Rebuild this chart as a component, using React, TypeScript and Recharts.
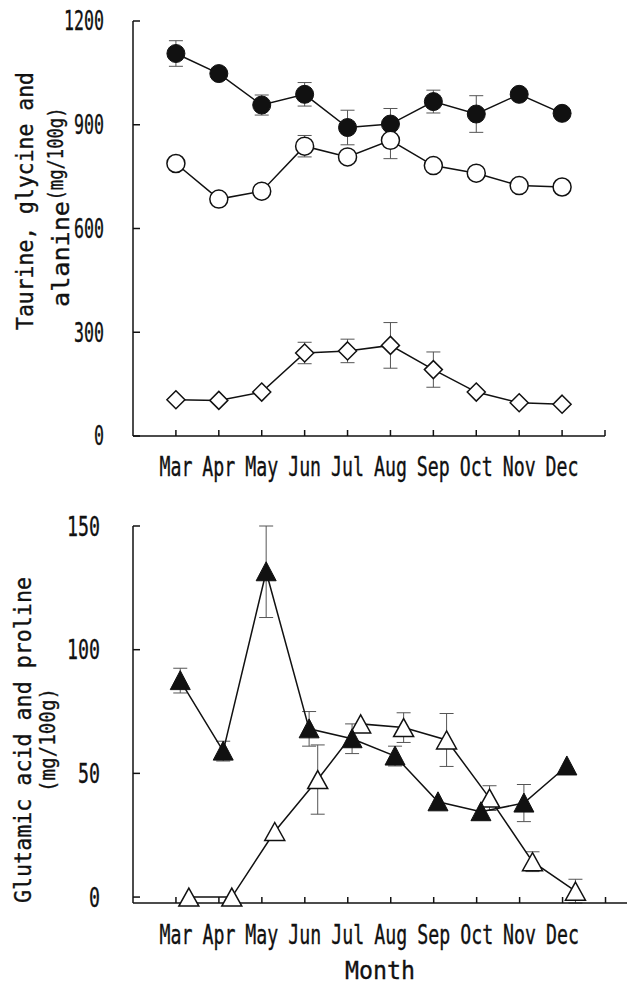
import type { ReactElement } from "react";
import { ErrorBar, Line, LineChart, XAxis, YAxis } from "recharts";

const months = ["Mar", "Apr", "May", "Jun", "Jul", "Aug", "Sep", "Oct", "Nov", "Dec"];

// upper panel (mg/100g)
const filledCircle = [1106, 1048, 957, 988, 892, 902, 967, 931, 988, 933];
const filledCircleErr = [37, null, 29, 34, 50, 45, 33, 53, null, null];
const openCircle = [788, 685, 708, 838, 807, 855, 782, 760, 724, 720];
const openCircleErr = [null, null, null, 31, null, 53, null, null, null, null];
const diamond = [105, 103, 127, 240, 246, 262, 192, 127, 96, 92];
const diamondErr = [null, null, null, 31, 34, 66, 51, null, null, null];
const topTicks = [0, 300, 600, 900, 1200];

// lower panel (mg/100g)
const filledTriangle = [87.5, 59, 131.5, 68, 64, 57, 38.5, 34.5, 38, 53];
const filledTriangleErr = [5, 4, 18.5, 7, 6, 4, null, null, 7.5, null];
const openTriangle = [0, 0, 26.5, 47.5, 70, 68.5, 63.5, 40, 14.3, 2.4];
const openTriangleErr = [null, null, null, 14, null, 6, 10.7, 5, 4, 4.8];
const bottomTicks = [0, 50, 100, 150];

const INK = "#111";
const MONO = "'DejaVu Sans Mono', monospace";
const tickPositions = [...months.map((_, i) => i + 1), months.length + 1];

function build(values: number[], errors: (number | null)[], shift: number) {
  return months.map((m, i) => ({ x: i + 1 + shift, month: m, y: values[i], err: errors[i] }));
}

const axisStyle = { stroke: INK, strokeWidth: 1.5 };
const textInk = { fill: INK, stroke: INK, strokeWidth: 0.35 };

function makeYTick(gap: number, fontSize: number, charW: number) {
  return (p: any): ReactElement => {
    const label = String(p.payload.value);
    return (
      <g>
        <line x1={p.x} y1={p.y} x2={p.x + 7} y2={p.y} stroke={INK} strokeWidth={1.5} />
        <text x={p.x - gap} y={p.y} dy="0.36em" textAnchor="end" fontFamily={MONO} fontSize={fontSize} {...textInk}
          textLength={label.length * charW} lengthAdjust="spacingAndGlyphs">{label}</text>
      </g>
    );
  };
}

function makeXTick(dy: number) {
  return (p: any): ReactElement => {
    const label = months[p.payload.value - 1] ?? "";
    return (
      <g>
        <line x1={p.x} y1={p.y} x2={p.x} y2={p.y - 6} stroke={INK} strokeWidth={1.5} />
        {label && (
          <text x={p.x} y={p.y + dy} textAnchor="middle" fontFamily={MONO} fontSize={26} {...textInk}
            textLength={label.length * 11} lengthAdjust="spacingAndGlyphs">{label}</text>
        )}
      </g>
    );
  };
}

const dotFilledCircle = (p: any) => <circle key={p.index} cx={p.cx} cy={p.cy} r={9} fill={INK} stroke={INK} strokeWidth={1} />;
const dotOpenCircle = (p: any) => <circle key={p.index} cx={p.cx} cy={p.cy} r={9} fill="#fff" stroke={INK} strokeWidth={1.5} />;
const dotDiamond = (p: any) => (
  <path key={p.index} d={`M${p.cx},${p.cy - 9}L${p.cx + 9},${p.cy}L${p.cx},${p.cy + 9}L${p.cx - 9},${p.cy}Z`}
    fill="#fff" stroke={INK} strokeWidth={1.5} />
);
const dotFilledTriangle = (p: any) => (
  <path key={p.index} d={`M${p.cx},${p.cy - 10}L${p.cx + 10},${p.cy + 9}L${p.cx - 10},${p.cy + 9}Z`}
    fill={INK} stroke={INK} strokeWidth={1} />
);
const dotOpenTriangle = (p: any) => (
  <path key={p.index} d={`M${p.cx},${p.cy - 9}L${p.cx + 10},${p.cy + 9}L${p.cx - 10},${p.cy + 9}Z`}
    fill="#fff" stroke={INK} strokeWidth={1.5} />
);

function TopTitle(): ReactElement {
  return (
    <g fontFamily={MONO} {...textInk}>
      <text transform="translate(33,201) rotate(-90)" textAnchor="middle" fontSize={23}
        textLength={258} lengthAdjust="spacingAndGlyphs">Taurine, glycine and</text>
      <text transform="translate(69,254) rotate(-90)" textAnchor="middle" fontSize={23}
        textLength={106} lengthAdjust="spacingAndGlyphs">alanine</text>
      <text transform="translate(63,154) rotate(-90)" textAnchor="middle" fontSize={21}
        textLength={93} lengthAdjust="spacingAndGlyphs">(mg/100g)</text>
    </g>
  );
}

function BottomTitle(): ReactElement {
  return (
    <g fontFamily={MONO} {...textInk}>
      <text transform="translate(31,253) rotate(-90)" textAnchor="middle" fontSize={23}
        textLength={326} lengthAdjust="spacingAndGlyphs">Glutamic acid and proline</text>
      <text transform="translate(55,253) rotate(-90)" textAnchor="middle" fontSize={21}
        textLength={104} lengthAdjust="spacingAndGlyphs">(mg/100g)</text>
    </g>
  );
}

function MonthTitle(): ReactElement {
  return (
    <text x={380} y={492} textAnchor="middle" fontFamily={MONO} fontSize={25} {...textInk}
      textLength={70} lengthAdjust="spacingAndGlyphs">Month</text>
  );
}

export default function App(): ReactElement {
  const errStyle = { stroke: "#555", strokeWidth: 1 };
  return (
    <div style={{ position: "absolute", left: 0, top: 0, width: 627, height: 987, background: "#fff" }}>
      <LineChart width={627} height={487} margin={{ top: 21, right: 22, bottom: 0, left: 0 }}>
        <XAxis dataKey="x" type="number" domain={[0, 11]} ticks={tickPositions} interval={0} height={51}
          tickSize={0} tickMargin={0} tickLine={false} axisLine={axisStyle} tick={makeXTick(40)} allowDataOverflow />
        <YAxis type="number" domain={[0, 1200]} ticks={topTicks} interval={0} width={133}
          tickSize={0} tickMargin={0} tickLine={false} axisLine={axisStyle} tick={makeYTick(29, 26, 10)}
          label={<TopTitle />} />
        <Line data={build(filledCircle, filledCircleErr, 0)} dataKey="y" stroke={INK} strokeWidth={1.5}
          dot={dotFilledCircle} activeDot={false} isAnimationActive={false}>
          <ErrorBar dataKey="err" width={7} direction="y" {...errStyle} />
        </Line>
        <Line data={build(diamond, diamondErr, 0)} dataKey="y" stroke={INK} strokeWidth={1.5}
          dot={dotDiamond} activeDot={false} isAnimationActive={false}>
          <ErrorBar dataKey="err" width={7} direction="y" {...errStyle} />
        </Line>
        <Line data={build(openCircle, openCircleErr, 0)} dataKey="y" stroke={INK} strokeWidth={1.5}
          dot={dotOpenCircle} activeDot={false} isAnimationActive={false}>
          <ErrorBar dataKey="err" width={7} direction="y" {...errStyle} />
        </Line>
      </LineChart>
      <LineChart width={627} height={500} margin={{ top: 39, right: 0, bottom: 0, left: 0 }}>
        <XAxis dataKey="x" type="number" domain={[0, 11.5]} ticks={tickPositions} interval={0} height={84}
          tickSize={0} tickMargin={0} tickLine={false} axisLine={axisStyle} tick={makeXTick(41)} allowDataOverflow
          label={<MonthTitle />} />
        <YAxis type="number" domain={[0, 150]} ticks={bottomTicks} interval={0} width={133}
          tickSize={0} tickMargin={0} tickLine={false} axisLine={axisStyle} tick={makeYTick(33, 27, 11)}
          label={<BottomTitle />} />
        <Line data={build(openTriangle, openTriangleErr, 0.3)} dataKey="y" stroke={INK} strokeWidth={1.5}
          dot={dotOpenTriangle} activeDot={false} isAnimationActive={false}>
          <ErrorBar dataKey="err" width={7} direction="y" {...errStyle} />
        </Line>
        <Line data={build(filledTriangle, filledTriangleErr, 0.1)} dataKey="y" stroke={INK} strokeWidth={1.5}
          dot={dotFilledTriangle} activeDot={false} isAnimationActive={false}>
          <ErrorBar dataKey="err" width={7} direction="y" {...errStyle} />
        </Line>
      </LineChart>
    </div>
  );
}
